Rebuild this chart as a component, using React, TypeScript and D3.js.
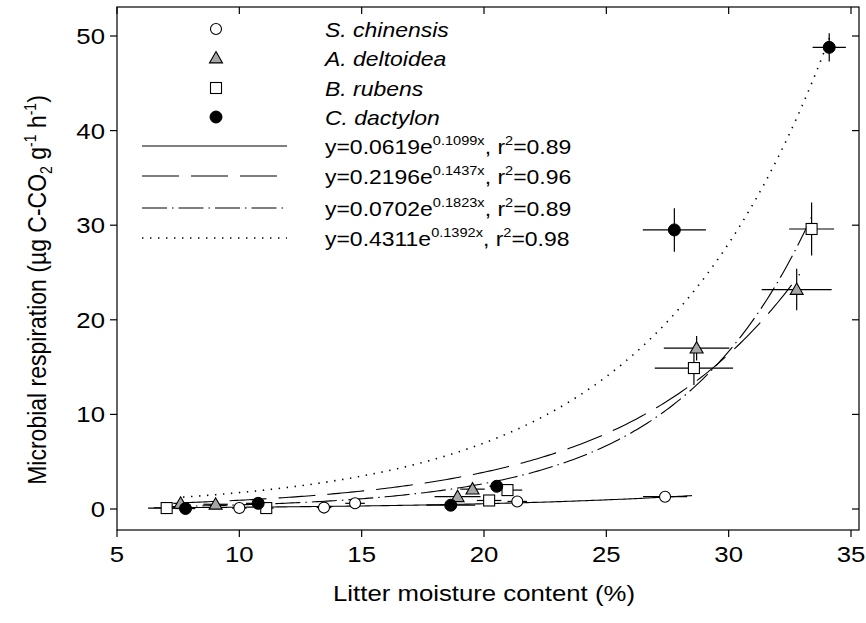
import React from "react";
import * as d3 from "d3";

// ---------- data ----------
const X_TICKS = [5, 10, 15, 20, 25, 30, 35];
const Y_TICKS = [0, 10, 20, 30, 40, 50];

const SPECIES = ["S. chinensis", "A. deltoidea", "B. rubens", "C. dactylon"];

const S_CHI_X = [10.0, 13.46, 14.73, 21.36, 27.4];
const S_CHI_Y = [0.1, 0.15, 0.6, 0.8, 1.3];
const S_CHI_XE = [0.3, 0.3, 0.4, 0.4, 0.9];
const S_CHI_YE = [0.1, 0.1, 0.1, 0.1, 0.2];

const A_DEL_X = [7.6, 9.03, 18.92, 19.53, 28.69, 32.78];
const A_DEL_Y = [0.6, 0.5, 1.3, 2.1, 17.0, 23.2];
const A_DEL_XE = [0.3, 0.5, 0.94, 0.5, 1.34, 1.43];
const A_DEL_YE = [0.2, 0.2, 0.3, 0.3, 1.3, 2.2];

const B_RUB_X = [7.03, 11.1, 20.21, 20.96, 28.58, 33.39];
const B_RUB_Y = [0.1, 0.1, 0.9, 2.0, 14.9, 29.6];
const B_RUB_XE = [0.76, 0.3, 0.5, 0.6, 1.6, 0.92];
const B_RUB_YE = [0.1, 0.1, 0.2, 0.3, 1.8, 2.8];

const C_DAC_X = [7.8, 10.77, 18.64, 20.52, 27.78, 34.11];
const C_DAC_Y = [0.05, 0.6, 0.4, 2.4, 29.5, 48.8];
const C_DAC_XE = [0.4, 0.5, 1.0, 0.3, 1.29, 0.68];
const C_DAC_YE = [0.1, 0.2, 0.2, 0.3, 2.3, 1.5];

// fits: y = a * exp(b x)
const FIT_A = [0.0619, 0.2196, 0.0702, 0.4311];
const FIT_B = [0.1099, 0.1437, 0.1823, 0.1392];
const FIT_R2 = ["0.89", "0.96", "0.89", "0.98"];
const FIT_A_TXT = ["0.0619", "0.2196", "0.0702", "0.4311"];
const FIT_B_TXT = ["0.1099x", "0.1437x", "0.1823x", "0.1392x"];
const FIT_X0 = [6.5, 7.6, 7.0, 7.7];
const FIT_X1 = [28.5, 32.9, 33.4, 34.2];

// ---------- layout ----------
const W = 866;
const H = 623;
const FRAME = { left: 117, right: 859, top: 7, bottom: 530 };
const SX = 1.12;
const FS = 23;
const FS_LEG = 20.5;
const FS_SMALL = 14;
const FS_LEG_SMALL = 13;
const FONT = "'Liberation Sans', Arial, sans-serif";

const x = d3.scaleLinear().domain([5, 35]).range([117, 851]);
const y = d3.scaleLinear().domain([0, 50]).range([509, 36]);

const DASHES = [null, "37 12", "25 5 1.5 5", "1.4 6.6"];
const SHAPES = ["circle", "triangle", "square", "dot"];

function Marker({ shape, cx, cy }: { shape: string; cx: number; cy: number }) {
  if (shape === "circle")
    return <circle cx={cx} cy={cy} r={5.5} fill="#fff" stroke="#000" strokeWidth={1.1} />;
  if (shape === "dot") return <circle cx={cx} cy={cy} r={6} fill="#000" stroke="#000" strokeWidth={1} />;
  if (shape === "square")
    return <rect x={cx - 5.5} y={cy - 5.5} width={11} height={11} fill="#fff" stroke="#000" strokeWidth={1.1} />;
  const s = 6.5;
  return (
    <path
      d={`M${cx},${cy - s} L${cx + s},${cy + s * 0.75} L${cx - s},${cy + s * 0.75} Z`}
      fill="#a6a6a6"
      stroke="#000"
      strokeWidth={1.1}
    />
  );
}

function SText({ tx, ty, anchor = "start", size = FS, italic = false, children }: any) {
  return (
    <text
      transform={`translate(${tx},${ty}) scale(${SX},1)`}
      textAnchor={anchor}
      fontFamily={FONT}
      fontSize={size}
      fontStyle={italic ? "italic" : "normal"}
      fill="#000"
    >
      {children}
    </text>
  );
}

export default function App() {
  const series = [
    { xs: S_CHI_X, ys: S_CHI_Y, xe: S_CHI_XE, ye: S_CHI_YE },
    { xs: A_DEL_X, ys: A_DEL_Y, xe: A_DEL_XE, ye: A_DEL_YE },
    { xs: B_RUB_X, ys: B_RUB_Y, xe: B_RUB_XE, ye: B_RUB_YE },
    { xs: C_DAC_X, ys: C_DAC_Y, xe: C_DAC_XE, ye: C_DAC_YE },
  ];

  const curves = FIT_A.map((a, k) => {
    const xs = d3.range(FIT_X0[k], FIT_X1[k] + 1e-9, (FIT_X1[k] - FIT_X0[k]) / 200);
    const gen = d3
      .line<number>()
      .x((d) => x(d))
      .y((d) => y(a * Math.exp(FIT_B[k] * d)));
    return gen(xs) as string;
  });

  const legendMarkerX = 216;
  const legendRowsY = [29, 58, 88, 117];
  const legendLineY = [146, 176, 208, 238];

  return (
    <svg width={W} height={H} style={{ position: "absolute", left: 0, top: 0, background: "#fff" }}>
      <rect x={0} y={0} width={W} height={H} fill="#fff" />
      {/* frame */}
      <rect
        x={FRAME.left}
        y={FRAME.top}
        width={FRAME.right - FRAME.left}
        height={FRAME.bottom - FRAME.top}
        fill="none"
        stroke="#000"
        strokeWidth={1.2}
      />
      {/* x ticks */}
      {X_TICKS.map((t) => (
        <g key={"xt" + t}>
          <line x1={x(t)} x2={x(t)} y1={FRAME.bottom} y2={FRAME.bottom + 7} stroke="#000" strokeWidth={1.2} />
          <line x1={x(t)} x2={x(t)} y1={FRAME.top} y2={FRAME.top + 7} stroke="#000" strokeWidth={1.2} />
          <SText tx={x(t)} ty={562} anchor="middle">
            {t}
          </SText>
        </g>
      ))}
      {/* y ticks */}
      {Y_TICKS.map((t) => (
        <g key={"yt" + t}>
          <line x1={FRAME.left - 7} x2={FRAME.left} y1={y(t)} y2={y(t)} stroke="#000" strokeWidth={1.2} />
          <line x1={FRAME.right - 7} x2={FRAME.right} y1={y(t)} y2={y(t)} stroke="#000" strokeWidth={1.2} />
          <SText tx={105} ty={y(t) + 8} anchor="end">
            {t}
          </SText>
        </g>
      ))}
      {/* axis titles */}
      <SText tx={484} ty={601} anchor="middle">
        Litter moisture content (%)
      </SText>
      <text
        transform={`translate(46,290) scale(${SX},1) rotate(-90)`}
        textAnchor="middle"
        fontFamily={FONT}
        fontSize={FS}
        fill="#000"
      >
        Microbial respiration (µg C-CO
        <tspan fontSize={FS_SMALL} dy={5}>2</tspan>
        <tspan dy={-5}> g</tspan>
        <tspan fontSize={FS_SMALL} dy={-9}>-1</tspan>
        <tspan dy={9}> h</tspan>
        <tspan fontSize={FS_SMALL} dy={-9}>-1</tspan>
        <tspan dy={9}>)</tspan>
      </text>

      {/* fit curves */}
      {curves.map((d, k) => (
        <path
          key={"c" + k}
          d={d}
          fill="none"
          stroke="#000"
          strokeWidth={k === 3 ? 1.6 : 1.1}
          strokeDasharray={DASHES[k] ?? undefined}
        />
      ))}

      {/* error bars + markers */}
      {series.map((s, k) =>
        s.xs.map((xv, i) => (
          <g key={`p${k}-${i}`}>
            <line x1={x(xv - s.xe[i])} x2={x(xv + s.xe[i])} y1={y(s.ys[i])} y2={y(s.ys[i])} stroke="#000" strokeWidth={1.2} />
            <line x1={x(xv)} x2={x(xv)} y1={y(s.ys[i] - s.ye[i])} y2={y(s.ys[i] + s.ye[i])} stroke="#000" strokeWidth={1.2} />
          </g>
        ))
      )}
      {series.map((s, k) =>
        s.xs.map((xv, i) => <Marker key={`m${k}-${i}`} shape={SHAPES[k]} cx={x(xv)} cy={y(s.ys[i])} />)
      )}

      {/* legend */}
      {SPECIES.map((name, k) => (
        <g key={"lg" + k}>
          <Marker shape={SHAPES[k]} cx={legendMarkerX} cy={legendRowsY[k]} />
          <SText tx={325} ty={legendRowsY[k] + 7.5} size={FS_LEG} italic>
            {name}
          </SText>
        </g>
      ))}
      {FIT_A.map((a, k) => (
        <g key={"lf" + k}>
          <line
            x1={142}
            x2={287}
            y1={legendLineY[k]}
            y2={legendLineY[k]}
            stroke="#000"
            strokeWidth={k === 3 ? 1.6 : 1.1}
            strokeDasharray={DASHES[k] ?? undefined}
          />
          <SText tx={325} ty={legendLineY[k] + 7.5} size={FS_LEG}>
            y={FIT_A_TXT[k]}e
            <tspan fontSize={FS_LEG_SMALL} dy={-9}>{FIT_B_TXT[k]}</tspan>
            <tspan dy={9}>, r</tspan>
            <tspan fontSize={FS_LEG_SMALL} dy={-9}>2</tspan>
            <tspan dy={9}>={FIT_R2[k]}</tspan>
          </SText>
        </g>
      ))}
    </svg>
  );
}
